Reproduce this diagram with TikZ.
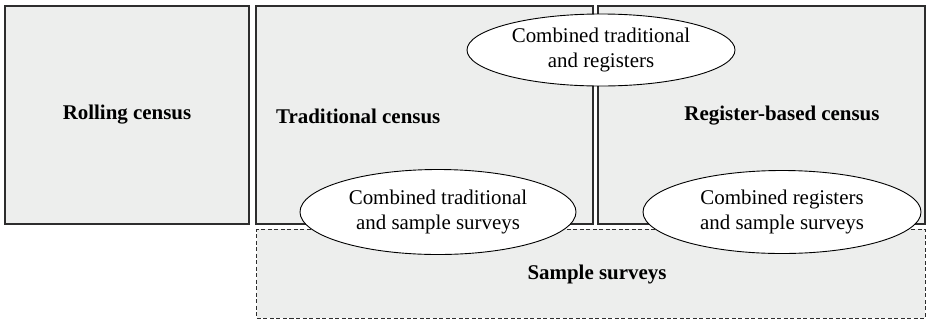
\documentclass[tikz,border=0pt]{standalone}
\usepackage{fontspec}
\setmainfont{Liberation Serif}
\usetikzlibrary{shapes.geometric}
\definecolor{boxgray}{RGB}{237,238,237}
\definecolor{linegray}{RGB}{45,45,45}
\begin{document}
\begin{tikzpicture}[x=1bp,y=-1bp,
  censusbox/.style={draw=linegray,line width=1.8bp,fill=boxgray,inner sep=0pt,font=\fontsize{21}{25}\selectfont\bfseries},
  surveybox/.style={draw=linegray,line width=1bp,dash pattern=on 4bp off 2.5bp,fill=boxgray,inner sep=0pt},
  boxtext/.style={font=\fontsize{21}{25}\selectfont\bfseries,inner sep=0pt},
  combined/.style={ellipse,draw=black,line width=0.9bp,fill=white,inner sep=0pt,align=center,font=\fontsize{21}{26}\selectfont}]
\useasboundingbox (0,0) rectangle (927,320);
\node[surveybox,minimum width=668bp,minimum height=89bp] at (591,273.5) (sample) {};
\node[boxtext] at (597,274) (sampletext) {Sample surveys};
\node[censusbox,minimum width=244bp,minimum height=218bp] at (127,115) (rolling) {Rolling census};
\node[censusbox,minimum width=337bp,minimum height=218bp] at (424.5,115) (traditional) {};
\node[boxtext,anchor=west] at (276,116) (traditionaltext) {Traditional census};
\node[censusbox,minimum width=327bp,minimum height=218bp] at (761.5,115) (register) {};
\node[boxtext] at (782,116) (registertext) {Register-based census};
\node[combined,minimum width=268bp,minimum height=72bp] at (601,50) (tradreg) {Combined traditional\\and registers};
\node[combined,minimum width=276bp,minimum height=85bp] at (438,212) (tradsample) {Combined traditional\\and sample surveys};
\node[combined,minimum width=278bp,minimum height=83bp] at (782,212) (regsample) {Combined registers\\and sample surveys};
\end{tikzpicture}
\end{document}
